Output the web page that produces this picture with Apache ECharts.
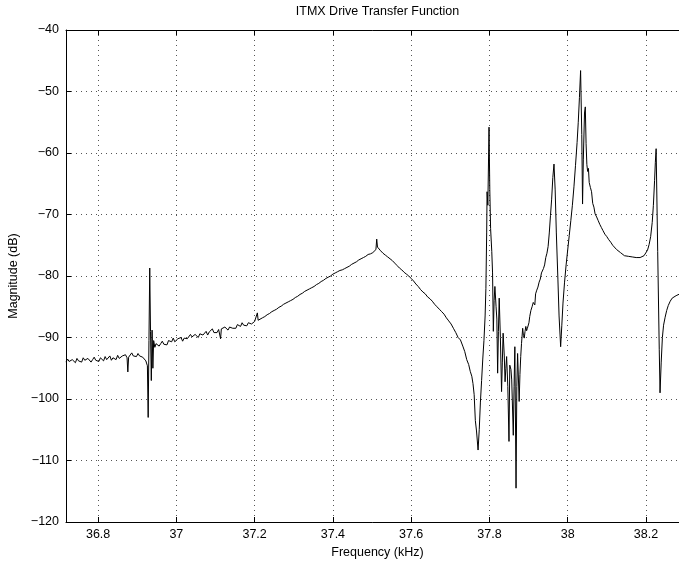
<!DOCTYPE html>
<html>
<head>
<meta charset="utf-8">
<script src="https://cdn.jsdelivr.net/npm/echarts@6/dist/echarts.min.js"></script>
<style>
html,body{margin:0;padding:0;background:#fff;}
#chart{width:679px;height:564px;}
</style>
</head>
<body>
<div id="chart"></div>
<script>
const chartTitle = "ITMX Drive Transfer Function";
const xLabel = "Frequency (kHz)";
const yLabel = "Magnitude (dB)";
const xTicks = [36.8, 37.0, 37.2, 37.4, 37.6, 37.8, 38.0, 38.2];
const yTicks = [-120, -110, -100, -90, -80, -70, -60, -50, -40];

const freqKHz = [
36.718,36.722,36.726,36.730,36.734,36.738,36.742,36.746,36.750,36.754,
36.758,36.762,36.766,36.770,36.774,36.778,36.782,36.786,36.790,36.794,
36.798,36.802,36.806,36.810,36.814,36.818,36.822,36.826,36.830,36.834,
36.838,36.842,36.846,36.850,36.854,36.858,36.862,36.866,36.870,36.874,
36.876,36.878,36.882,36.886,36.890,36.894,36.898,36.902,36.906,36.910,
36.914,36.918,36.922,36.926,36.928,36.930,36.932,36.934,36.936,36.938,
36.940,36.942,36.945,36.948,
36.952,36.956,36.960,36.964,36.968,36.972,36.976,36.980,36.984,36.988,
36.992,36.996,37.000,37.004,37.008,37.012,37.016,37.020,37.024,37.028,
37.032,37.036,37.040,37.044,37.048,37.052,37.056,37.060,37.064,37.068,
37.072,37.076,37.080,37.084,37.088,37.092,37.096,37.100,37.104,37.108,
37.112,37.113,37.115,37.120,37.124,37.128,37.132,37.136,37.140,37.144,
37.148,37.152,37.156,37.160,37.164,37.168,37.172,37.176,37.180,37.184,
37.188,37.192,37.196,37.200,
37.204,37.207,37.209,37.214,37.220,37.226,37.232,37.238,37.244,37.250,
37.256,37.262,37.268,37.274,37.280,37.286,37.292,37.298,37.304,37.310,
37.316,37.322,37.328,37.334,37.340,37.346,37.352,37.358,37.364,37.370,
37.376,37.382,37.388,37.394,37.400,37.406,37.412,37.418,37.424,37.430,
37.436,37.442,37.448,37.454,37.460,37.466,37.472,37.478,37.484,37.490,
37.496,37.502,37.507,37.510,37.512,37.514,37.518,37.522,37.528,37.534,
37.540,37.546,37.552,37.558,37.564,37.570,37.576,37.582,37.588,37.594,
37.600,37.606,37.612,37.618,37.624,37.630,37.636,37.642,37.648,37.654,
37.660,37.666,37.672,37.678,37.684,37.690,37.696,37.702,37.708,37.714,
37.720,37.726,37.732,37.737,37.742,37.747,37.751,37.755,37.758,37.761,
37.764,37.767,37.771,37.774,37.777,37.780,37.783,37.786,37.789,37.791,
37.793,37.794,37.796,37.799,37.801,37.803,37.806,37.808,37.810,37.812,
37.814,37.817,37.819,37.821,37.823,37.825,37.828,37.831,37.833,37.835,
37.838,37.840,37.842,37.844,37.847,37.850,37.852,37.855,37.857,37.861,
37.863,37.865,37.868,37.870,37.872,37.876,37.878,37.880,37.882,37.885,
37.887,37.889,37.891,37.893,37.895,37.897,37.899,37.901,37.903,37.906,
37.909,37.912,37.914,37.916,37.918,37.921,37.924,37.927,37.930,37.933,
37.935,37.938,37.941,37.944,37.947,37.950,37.953,37.956,37.959,37.962,
37.965,37.968,37.971,37.975,37.978,37.982,37.985,37.988,37.992,37.996,
38.000,38.004,38.008,38.012,38.016,38.020,38.024,38.027,38.030,38.033,
38.036,38.038,38.040,38.043,38.045,38.047,38.049,38.051,38.053,38.055,
38.058,38.061,38.064,38.067,38.070,38.074,38.078,38.082,38.086,38.090,
38.095,38.100,38.105,38.110,38.115,38.120,38.125,38.130,38.135,38.140,
38.145,38.150,38.155,38.160,38.165,38.170,38.175,38.180,38.185,38.190,
38.195,38.200,38.204,38.208,38.212,38.216,38.219,38.222,38.224,38.226,
38.230,38.234,38.236,38.239,38.242,38.245,38.249,38.253,38.257,38.262,
38.267,38.272,38.277,38.282,38.287,38.292,38.300,38.310
];

const magDB = [
-94.0,-93.5,-93.9,-94.2,-93.6,-93.7,-94.1,-93.4,-93.8,-93.6,
-94.0,-93.3,-93.7,-93.9,-93.4,-93.5,-94.0,-93.6,-93.2,-93.7,
-93.5,-93.9,-93.3,-93.4,-93.8,-93.1,-93.6,-93.5,-93.0,-93.7,
-93.3,-93.2,-93.6,-92.9,-93.4,-93.5,-93.0,-93.3,-92.8,-93.3,
-95.6,-93.2,-92.9,-92.5,-93.0,-92.8,-93.1,-92.6,-93.0,-92.9,
-93.2,-93.4,-93.8,-94.6,-103.0,-90.5,-78.7,-89.0,-97.0,-88.8,
-95.0,-90.5,-91.6,-91.0,
-91.0,-91.4,-91.0,-90.6,-91.1,-90.9,-91.2,-90.5,-90.6,-90.7,
-90.1,-90.7,-90.8,-90.2,-90.3,-90.0,-90.6,-90.1,-89.9,-90.2,
-90.3,-89.5,-89.9,-90.0,-89.5,-89.6,-90.0,-89.4,-89.1,-89.6,
-89.6,-89.0,-89.6,-89.1,-89.2,-88.6,-89.2,-88.9,-89.2,-88.7,
-88.9,-90.2,-88.6,-88.9,-88.3,-88.6,-88.8,-88.3,-88.0,-88.5,
-88.3,-88.5,-87.9,-88.0,-88.2,-87.6,-88.0,-87.7,-88.1,-87.6,
-87.4,-87.8,-87.6,-87.4,
-87.3,-86.0,-87.2,-87.1,-86.8,-86.6,-86.3,-86.1,-85.8,-85.6,
-85.4,-85.1,-84.9,-84.6,-84.4,-84.2,-84.0,-83.8,-83.5,-83.3,
-83.0,-82.8,-82.5,-82.3,-82.1,-81.9,-81.7,-81.4,-81.2,-80.9,
-80.7,-80.4,-80.2,-80.0,-79.7,-79.5,-79.3,-79.1,-79.0,-78.8,
-78.6,-78.4,-78.1,-77.9,-77.7,-77.4,-77.2,-77.0,-76.8,-76.5,
-76.4,-76.2,-75.9,-75.7,-74.0,-75.3,-75.6,-75.9,-76.3,-76.6,
-76.9,-77.2,-77.5,-77.9,-78.3,-78.7,-79.0,-79.4,-79.7,-80.0,
-80.4,-80.8,-81.3,-81.7,-82.2,-82.6,-82.9,-83.4,-83.7,-84.1,
-84.6,-85.0,-85.4,-85.8,-86.2,-86.8,-87.3,-87.8,-88.5,-89.2,
-90.0,-90.4,-91.4,-92.3,-93.6,-94.4,-95.5,-96.3,-97.5,-99.3,
-103.5,-105.2,-108.3,-105.0,-100.5,-97.0,-93.5,-90.5,-86.5,-82.0,
-73.0,-66.3,-68.5,-55.8,-66.0,-72.3,-76.0,-79.5,-89.0,-84.0,
-81.7,-85.0,-87.0,-95.8,-89.0,-83.6,-90.0,-98.8,-94.0,-89.3,
-93.0,-97.2,-95.0,-93.1,-98.0,-106.9,-94.5,-95.2,-96.9,-105.9,
-98.0,-91.5,-114.5,-98.0,-92.6,-100.4,-96.0,-93.1,-91.0,-88.5,
-89.7,-90.1,-89.0,-88.2,-88.9,-88.5,-88.2,-87.6,-86.6,-85.6,
-85.0,-84.3,-84.0,-84.7,-82.9,-82.3,-81.8,-81.0,-80.5,-79.5,
-79.8,-78.8,-78.2,-77.0,-76.3,-75.2,-73.0,-70.2,-67.5,-64.0,
-61.8,-66.0,-73.0,-80.5,-86.5,-91.5,-88.0,-84.4,-81.0,-78.2,
-75.8,-73.4,-71.0,-68.5,-65.5,-62.0,-58.3,-55.0,-51.0,-46.6,
-57.0,-68.3,-61.0,-53.5,-52.5,-58.5,-61.9,-63.0,-62.5,-64.8,
-65.6,-66.3,-68.2,-68.8,-69.9,-70.4,-71.0,-71.6,-72.1,-72.6,
-73.2,-73.6,-74.1,-74.5,-75.0,-75.3,-75.7,-76.0,-76.2,-76.4,
-76.7,-76.8,-76.8,-77.0,-76.9,-77.1,-77.0,-77.1,-77.0,-76.9,
-76.7,-76.4,-75.8,-74.9,-73.6,-71.3,-68.5,-64.5,-61.5,-59.3,
-76.0,-92.0,-99.0,-94.0,-90.0,-88.0,-86.7,-85.6,-84.8,-84.1,
-83.6,-83.3,-83.2,-83.0,-82.9,-82.8,-82.8,-82.7
];

const seriesData = freqKHz.map((f, i) => [f, magDB[i]]);

const FONT = "'Liberation Sans', Arial, Helvetica, sans-serif";
const FS = 12.5;
const chart = echarts.init(document.getElementById('chart'), null, {renderer: 'canvas'});
const gridStyle = {show: true, lineStyle: {color: '#555', width: 1, type: [1, 4]}};
chart.setOption({
  animation: false,
  backgroundColor: '#fff',
  grid: {left: 66, width: 623, top: 30, height: 492, outerBoundsMode: 'none', containLabel: false},
  xAxis: [{
    type: 'value', position: 'bottom', min: 36.718, max: 38.31,
    name: xLabel, nameLocation: 'middle', nameGap: 23,
    nameTextStyle: {color: '#000', fontSize: FS, fontFamily: FONT},
    axisLine: {show: true, onZero: false, lineStyle: {color: '#000', width: 1}},
    axisTick: {show: true, inside: true, length: 5, customValues: xTicks, lineStyle: {color: '#000'}},
    axisLabel: {show: true, customValues: xTicks, color: '#000', fontSize: FS, fontFamily: FONT, margin: 6,
      formatter: v => String(+v.toFixed(1))},
    splitLine: gridStyle
  }, {
    type: 'value', position: 'top', min: 36.718, max: 38.31,
    name: chartTitle, nameLocation: 'middle', nameGap: 12,
    nameTextStyle: {color: '#000', fontSize: FS, fontFamily: FONT},
    axisLine: {show: true, onZero: false, lineStyle: {color: '#000', width: 1}},
    axisTick: {show: true, inside: true, length: 5, customValues: xTicks, lineStyle: {color: '#000'}},
    axisLabel: {show: false},
    splitLine: {show: false}
  }],
  yAxis: [{
    type: 'value', min: -120, max: -40, interval: 10,
    name: yLabel, nameLocation: 'middle', nameGap: 39,
    nameTextStyle: {color: '#000', fontSize: FS, fontFamily: FONT},
    axisLine: {show: true, onZero: false, lineStyle: {color: '#000', width: 1}},
    axisTick: {show: true, inside: true, length: 5, lineStyle: {color: '#000'}},
    axisLabel: {color: '#000', fontSize: FS, fontFamily: FONT, margin: 7,
      formatter: v => String(v).replace('-', '\u2212')},
    splitLine: gridStyle
  }],
  series: [{
    type: 'line', xAxisIndex: 0, yAxisIndex: 0,
    data: seriesData, showSymbol: false, symbol: 'none',
    lineStyle: {color: '#000', width: 1}, clip: true
  }]
});
</script>
</body>
</html>
